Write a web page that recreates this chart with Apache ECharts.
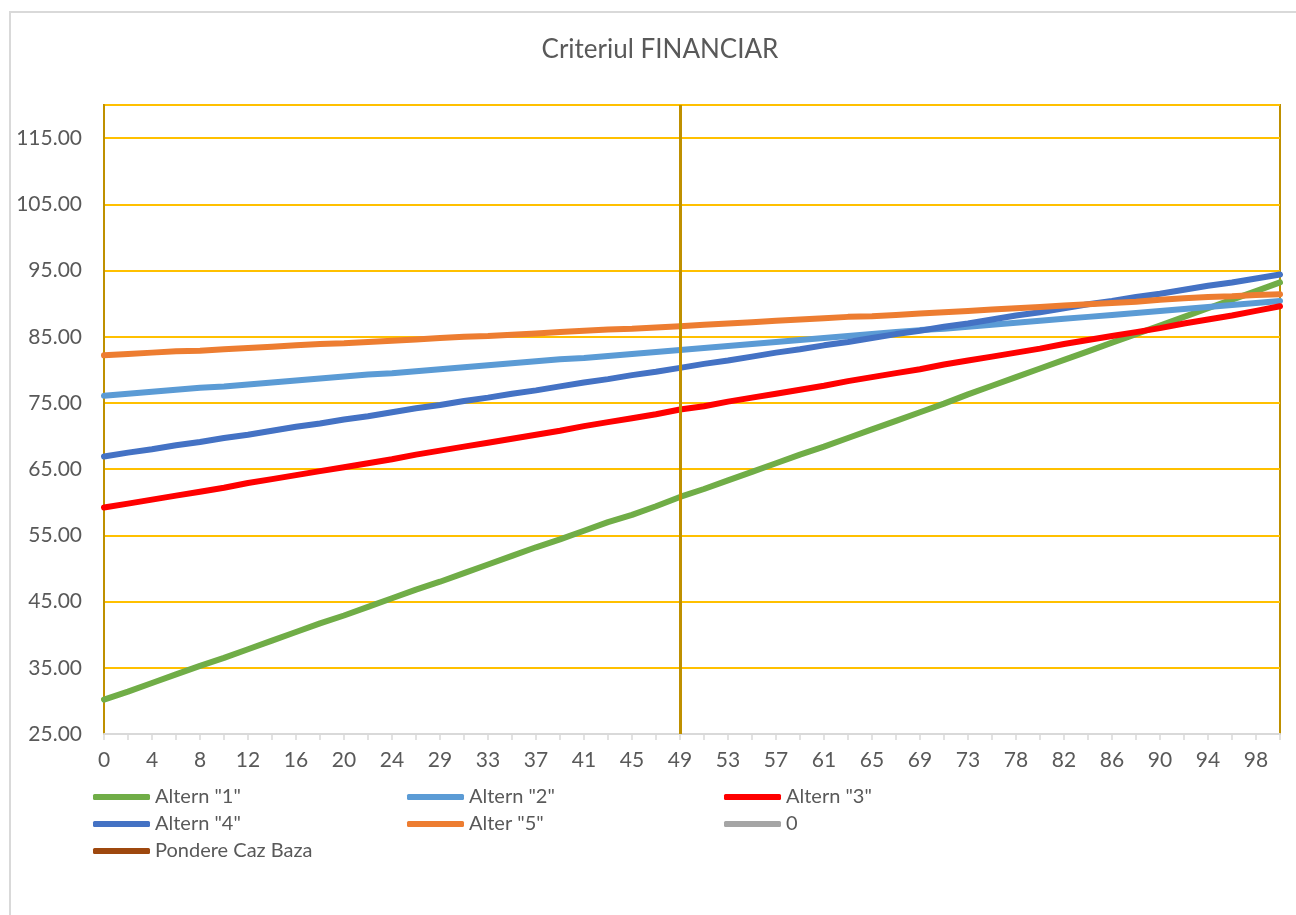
<!DOCTYPE html>
<html>
<head>
<meta charset="utf-8">
<title>Criteriul FINANCIAR</title>
<script src="https://cdn.jsdelivr.net/npm/echarts@6/dist/echarts.min.js"></script>
<style>
  html, body { margin: 0; padding: 0; background: #ffffff; }
  #chart { width: 1296px; height: 915px; }
</style>
</head>
<body>
<div id="chart"></div>
<script>
// Weight of the financial criterion (%), one category per step
const categories = ['0','2','4','6','8','10','12','14','16','18','20','22','24','27','29','31','33','35','37','39',
  '41','43','45','47','49','51','53','55','57','59','61','63','65','67','69','71','73','76','78','80',
  '82','84','86','88','90','92','94','96','98','100'];

const altern1 = [30.2, 31.4, 32.7, 34.0, 35.3, 36.5, 37.8, 39.1, 40.4, 41.7, 42.9, 44.2, 45.5, 46.8, 48.0, 49.3, 50.6, 51.9, 53.2, 54.4,
  55.7, 57.0, 58.1, 59.4, 60.8, 62.0, 63.3, 64.6, 65.9, 67.2, 68.4, 69.7, 71.0, 72.3, 73.6, 74.9, 76.3, 77.6, 78.9, 80.2,
  81.5, 82.8, 84.1, 85.4, 86.7, 88.0, 89.3, 90.6, 91.9, 93.2];
const altern2 = [76.1, 76.4, 76.7, 77.0, 77.3, 77.5, 77.8, 78.1, 78.4, 78.7, 79.0, 79.3, 79.5, 79.8, 80.1, 80.4, 80.7, 81.0, 81.3, 81.6,
  81.8, 82.1, 82.4, 82.7, 83.0, 83.3, 83.6, 83.9, 84.2, 84.5, 84.8, 85.1, 85.4, 85.7, 86.0, 86.2, 86.5, 86.8, 87.1, 87.4,
  87.7, 88.0, 88.3, 88.6, 88.9, 89.2, 89.5, 89.8, 90.1, 90.4];
const altern3 = [59.2, 59.8, 60.4, 61.0, 61.6, 62.2, 62.9, 63.5, 64.1, 64.7, 65.3, 65.9, 66.5, 67.2, 67.8, 68.4, 69.0, 69.6, 70.2, 70.8,
  71.5, 72.1, 72.7, 73.3, 74.0, 74.5, 75.2, 75.8, 76.4, 77.0, 77.6, 78.3, 78.9, 79.5, 80.1, 80.8, 81.4, 82.0, 82.6, 83.2,
  83.9, 84.5, 85.1, 85.7, 86.3, 87.0, 87.6, 88.2, 88.9, 89.6];
const altern4 = [66.9, 67.5, 68.0, 68.6, 69.1, 69.7, 70.2, 70.8, 71.4, 71.9, 72.5, 73.0, 73.6, 74.2, 74.7, 75.3, 75.8, 76.4, 76.9, 77.5,
  78.1, 78.6, 79.2, 79.7, 80.3, 80.9, 81.4, 82.0, 82.6, 83.1, 83.7, 84.2, 84.8, 85.4, 85.9, 86.5, 87.0, 87.6, 88.2, 88.7,
  89.3, 89.9, 90.4, 91.0, 91.5, 92.1, 92.7, 93.2, 93.8, 94.4];
const alter5 = [82.2, 82.4, 82.6, 82.8, 82.9, 83.1, 83.3, 83.5, 83.7, 83.9, 84.0, 84.2, 84.4, 84.6, 84.8, 85.0, 85.1, 85.3, 85.5, 85.7,
  85.9, 86.1, 86.2, 86.4, 86.6, 86.8, 87.0, 87.2, 87.4, 87.6, 87.8, 88.0, 88.1, 88.3, 88.5, 88.7, 88.9, 89.1, 89.3, 89.5,
  89.7, 89.9, 90.1, 90.3, 90.6, 90.8, 91.0, 91.1, 91.3, 91.4];
const zeroSeries = [];
// Base-case weight, drawn as a vertical marker line
const baseCase = '49';

const FONT = 'Lato, "Open Sans", sans-serif';
const TEXT = '#595959';

function line(name, data, color) {
  return {
    name: name, type: 'line', data: data, color: color,
    symbol: 'none', smooth: false,
    lineStyle: { width: 6, color: color, cap: 'round', join: 'round' }
  };
}

const chart = echarts.init(document.getElementById('chart'), null, { renderer: 'canvas' });

const legendBase = {
  orient: 'vertical', top: 786, padding: 0, itemGap: 5,
  itemWidth: 57, itemHeight: 6, icon: 'roundRect',
  textStyle: { color: TEXT, fontSize: 20, fontFamily: FONT, lineHeight: 22 },
  selectedMode: false
};

chart.setOption({
  animation: false,
  backgroundColor: '#ffffff',
  graphic: [
    { type: 'rect', shape: { x: 10, y: 12, width: 1300, height: 920 },
      style: { fill: 'none', stroke: '#d9d9d9', lineWidth: 2 }, silent: true, z: -10 },
    { type: 'text', x: 660, y: 50,
      style: { text: 'Criteriul FINANCIAR', fill: TEXT, fontSize: 26, fontFamily: FONT,
               textAlign: 'center', textVerticalAlign: 'middle' }, silent: true }
  ],
  grid: {
    left: 104, right: 16, top: 105, bottom: 181,
    show: true, borderColor: '#BF9000', borderWidth: 2, backgroundColor: 'transparent'
  },
  legend: [
    Object.assign({}, legendBase, { left: 93, data: ['Altern "1"', 'Altern "4"', 'Pondere Caz Baza'] }),
    Object.assign({}, legendBase, { left: 407, data: ['Altern "2"', 'Alter "5"'] }),
    Object.assign({}, legendBase, { left: 724, data: ['Altern "3"', '0'] })
  ],
  xAxis: {
    type: 'category', data: categories, boundaryGap: false,
    axisLine: { show: true, lineStyle: { color: '#d9d9d9', width: 2 } },
    axisTick: { show: true, interval: 0, length: 6, lineStyle: { color: '#d9d9d9', width: 1.5 } },
    axisLabel: { interval: 1, color: TEXT, fontSize: 21, fontFamily: FONT, margin: 16 },
    splitLine: { show: false }
  },
  yAxis: {
    type: 'value', min: 25, max: 120, interval: 10,
    axisLine: { show: true, lineStyle: { color: '#BF9000', width: 2 } },
    axisTick: { show: false },
    axisLabel: {
      color: TEXT, fontSize: 21, fontFamily: FONT, margin: 22, showMaxLabel: false,
      formatter: function (v) { return v.toFixed(2); }
    },
    splitLine: { show: true, lineStyle: { color: '#FFC000', width: 2 } }
  },
  series: [
    line('Altern "1"', altern1, '#70AD47'),
    line('Altern "2"', altern2, '#5B9BD5'),
    line('Altern "3"', altern3, '#FF0000'),
    line('Altern "4"', altern4, '#4472C4'),
    line('Alter "5"', alter5, '#ED7D31'),
    line('0', zeroSeries, '#A5A5A5'),
    Object.assign(line('Pondere Caz Baza', [], '#9E480E'), {
      markLine: {
        silent: true, symbol: 'none', animation: false,
        label: { show: false },
        lineStyle: { color: '#BF9000', width: 3, type: 'solid' },
        data: [{ xAxis: baseCase }]
      }
    })
  ]
});
</script>
</body>
</html>
